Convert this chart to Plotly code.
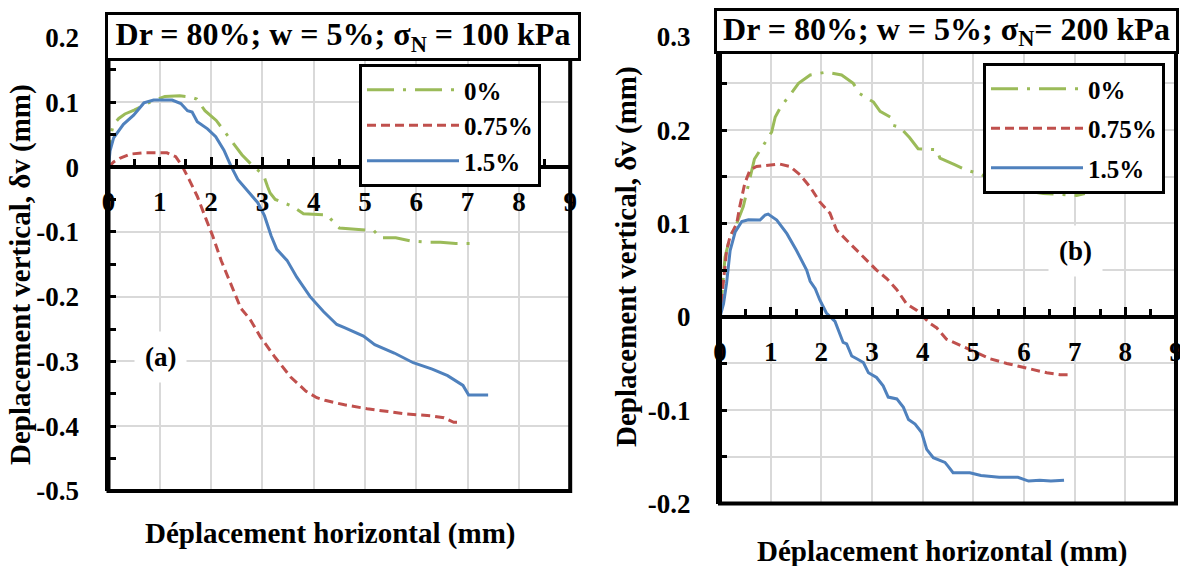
import plotly.graph_objects as go

# ---------------- data ----------------
series_names = ["0%", "0.75%", "1.5%"]
colors = ["#9BBB59", "#C0504D", "#4F81BD"]
dashes = ["27px,9px,3px,9px", "9px,5px", "solid"]

# panel (a): sigma_N = 100 kPa
a_x_0 = [0, 0.02, 0.05, 0.09, 0.2, 0.32, 0.5, 0.8, 1.1, 1.39, 1.6, 1.72, 1.88, 2.1, 2.27, 2.45, 2.6, 2.81,
         3.02, 3.1, 3.15, 3.25, 3.57, 3.8, 4.27, 4.33, 4.5, 4.81, 5.17, 5.3, 5.6, 5.89, 6.21, 6.47, 6.77, 7.09]
a_y_0 = [0, 0.03, 0.05, 0.065, 0.075, 0.082, 0.088, 0.100, 0.109, 0.110, 0.108, 0.105, 0.087, 0.072, 0.054, 0.035,
         0.019, 0.002, -0.012, -0.03, -0.04, -0.05, -0.06, -0.072, -0.074, -0.080, -0.094, -0.096, -0.098, -0.109,
         -0.109, -0.114, -0.116, -0.116, -0.118, -0.118]

a_x_075 = [0, 0.1, 0.23, 0.42, 0.69, 1.14, 1.31, 1.44, 1.57, 1.73, 1.9, 2.03, 2.2, 2.36, 2.58, 2.76, 2.96, 3.25,
           3.55, 3.85, 4.06, 4.22, 4.6, 5.04, 5.4, 5.79, 6.28, 6.54, 6.73, 6.86]
a_y_075 = [0, 0.008, 0.014, 0.020, 0.022, 0.022, 0.016, 0.001, -0.019, -0.045, -0.08, -0.106, -0.145, -0.177,
           -0.218, -0.235, -0.262, -0.294, -0.324, -0.346, -0.356, -0.36, -0.367, -0.373, -0.377, -0.381, -0.384,
           -0.387, -0.394, -0.394]

a_x_15 = [0, 0.03, 0.1, 0.29, 0.49, 0.69, 0.88, 1.24, 1.41, 1.54, 1.63, 1.73, 1.93, 2.09, 2.25, 2.39, 2.52, 2.71,
          2.91, 3.04, 3.17, 3.28, 3.48, 3.67, 3.93, 4.19, 4.45, 4.6, 4.97, 5.19, 5.57, 5.94, 6.31, 6.61, 6.91,
          7.02, 7.4]
a_y_15 = [0, 0.025, 0.045, 0.066, 0.080, 0.099, 0.1035, 0.1035, 0.098, 0.087, 0.085, 0.07, 0.059, 0.047, 0.026,
          0.001, -0.019, -0.037, -0.055, -0.075, -0.106, -0.127, -0.144, -0.17, -0.2, -0.223, -0.243, -0.248,
          -0.261, -0.274, -0.287, -0.302, -0.312, -0.322, -0.337, -0.352, -0.352]

# panel (b): sigma_N = 200 kPa
b_x_0 = [0, 0.03, 0.07, 0.1, 0.2, 0.33, 0.46, 0.6, 0.68, 0.86, 1.02, 1.09, 1.2, 1.38, 1.55, 1.78, 2.09, 2.4,
         2.63, 2.76, 3.03, 3.16, 3.36, 3.42, 3.55, 3.74, 3.91, 4.28, 4.34, 4.63, 4.87, 5.13, 5.59, 5.92, 6.18,
         6.38, 6.76, 7.04, 7.2]
b_y_0 = [0, 0.02, 0.04, 0.064, 0.086, 0.1, 0.118, 0.150, 0.169, 0.184, 0.198, 0.214, 0.225, 0.2375, 0.25,
         0.259, 0.262, 0.259, 0.25, 0.239, 0.23, 0.22, 0.214, 0.205, 0.203, 0.192, 0.180, 0.179, 0.17, 0.163,
         0.157, 0.153, 0.141, 0.136, 0.134, 0.132, 0.131, 0.130, 0.132]

b_x_075 = [0, 0.03, 0.07, 0.13, 0.2, 0.33, 0.39, 0.49, 0.59, 0.72, 0.99, 1.18, 1.38, 1.58, 1.78, 1.97, 2.17,
           2.3, 2.5, 2.7, 2.89, 3.09, 3.29, 3.49, 3.68, 3.88, 4.01, 4.14, 4.28, 4.47, 4.8, 5.07, 5.33, 5.66,
           6.05, 6.45, 6.71, 6.88]
b_y_075 = [0, 0.021, 0.039, 0.071, 0.086, 0.1, 0.118, 0.143, 0.157, 0.161, 0.1625, 0.1636, 0.161, 0.152,
           0.139, 0.123, 0.111, 0.093, 0.082, 0.071, 0.061, 0.05, 0.041, 0.029, 0.014, 0.007, 0.0, -0.007,
           -0.012, -0.024, -0.032, -0.039, -0.045, -0.05, -0.055, -0.06, -0.062, -0.062]

b_x_15 = [0, 0.07, 0.13, 0.2, 0.3, 0.43, 0.56, 0.79, 0.89, 0.95, 1.12, 1.32, 1.51, 1.71, 1.78, 1.88, 1.97,
          2.1, 2.27, 2.37, 2.43, 2.5, 2.6, 2.7, 2.83, 2.93, 3.09, 3.22, 3.32, 3.49, 3.62, 3.72, 3.85, 3.98,
          4.08, 4.21, 4.44, 4.5, 4.6, 4.8, 4.93, 5.15, 5.51, 5.88, 6.0, 6.09, 6.31, 6.53, 6.79]
b_y_15 = [0, 0.014, 0.036, 0.071, 0.091, 0.102, 0.104, 0.1036, 0.109, 0.11, 0.1036, 0.089, 0.071, 0.05,
          0.038, 0.030, 0.018, 0.004, -0.005, -0.019, -0.0275, -0.029, -0.042, -0.045, -0.049, -0.06, -0.065,
          -0.074, -0.086, -0.088, -0.097, -0.11, -0.115, -0.124, -0.142, -0.151, -0.156, -0.16, -0.167,
          -0.167, -0.167, -0.170, -0.172, -0.172, -0.174, -0.176, -0.175, -0.176, -0.175]

# tick labels
x_tick_vals = [0, 1, 2, 3, 4, 5, 6, 7, 8, 9]
x_tick_text = ["0", "1", "2", "3", "4", "5", "6", "7", "8", "9"]
ya_tick_vals = [-0.5, -0.4, -0.3, -0.2, -0.1, 0, 0.1, 0.2]
ya_tick_text = ["-0.5", "-0.4", "-0.3", "-0.2", "-0.1", "0", "0.1", "0.2"]
yb_tick_vals = [-0.2, -0.1, 0, 0.1, 0.2, 0.3]
yb_tick_text = ["-0.2", "-0.1", "0", "0.1", "0.2", "0.3"]

title_a = "Dr = 80%; w = 5%; σ<sub>N</sub> = 100 kPa"
title_b = "Dr = 80%; w = 5%; σ<sub>N</sub>= 200 kPa"
x_title = "Déplacement horizontal (mm)"
y_title = "Deplacement vertical, δv (mm)"

# ---------------- layout geometry ----------------
W, H = 1180, 566
FONT = "Liberation Serif, Tinos, Times New Roman, serif"
range_ya = [-0.5, 0.2]
range_yb = [-0.2, 0.3]
dom_xa = [108.5 / W, 570.2 / W]
dom_ya = [(H - 491) / H, (H - 37.5) / H]
dom_xb = [720 / W, 1176 / W]
dom_yb = [(H - 503.5) / H, (H - 36.7) / H]


def zero_pos(dom, rng):
    return dom[0] + (0 - rng[0]) / (rng[1] - rng[0]) * (dom[1] - dom[0])


fig = go.Figure()
panels = [
    ("x", "y", "legend", [(a_x_0, a_y_0), (a_x_075, a_y_075), (a_x_15, a_y_15)]),
    ("x2", "y2", "legend2", [(b_x_0, b_y_0), (b_x_075, b_y_075), (b_x_15, b_y_15)]),
]
for xa, ya, lg, data in panels:
    for i, (xs, ys) in enumerate(data):
        fig.add_trace(go.Scatter(
            x=xs, y=ys, mode="lines", name=series_names[i], xaxis=xa, yaxis=ya, legend=lg,
            legendgroup=f"{lg}{i}",
            line=dict(color=colors[i], width=3, dash=dashes[i]),
        ))

tickfont = dict(family=FONT, size=27, color="black", weight="bold")
grid = "#D9D9D9"


def xaxis_def(dom, ydom, yrng):
    return dict(
        domain=dom, range=[0, 9], anchor="free",
        position=zero_pos(ydom, yrng),
        tickmode="array", tickvals=x_tick_vals, ticktext=x_tick_text,
        showgrid=True, gridcolor=grid, gridwidth=1.5,
        showline=True, linecolor="black", linewidth=4,
        ticks="inside", ticklen=8, tickwidth=3, tickcolor="black",
        minor=dict(tickmode="linear", tick0=0, dtick=0.5, ticks="inside", ticklen=6,
                   tickwidth=3, tickcolor="black", showgrid=False),
        zeroline=False, tickfont=tickfont, ticklabelstandoff=10, ticklabeloverflow="allow",
        fixedrange=True, automargin=False,
    )


def yaxis_def(dom, rng, vals, text, anchor_x, minor_grid):
    return dict(
        domain=dom, range=rng, anchor=anchor_x,
        tickmode="array", tickvals=vals, ticktext=text,
        showgrid=True, gridcolor=grid, gridwidth=1.5,
        showline=True, linecolor="black", linewidth=4,
        ticks="inside", ticklen=7, tickwidth=3, tickcolor="black",
        minor=dict(tickmode="linear", tick0=0, dtick=0.05, ticks="inside", ticklen=7,
                   tickwidth=3, tickcolor="black", showgrid=minor_grid, gridcolor=grid, gridwidth=1.5),
        zeroline=False, tickfont=tickfont, ticklabelstandoff=20, ticklabeloverflow="allow",
        fixedrange=True, automargin=False,
    )


legend_common = dict(
    xanchor="left", yanchor="top", bgcolor="white", bordercolor="black", borderwidth=3,
    font=dict(family=FONT, size=25, color="black", weight="bold"), itemwidth=92,
    tracegroupgap=0,
)

fig.update_layout(
    width=W, height=H, margin=dict(l=0, r=0, t=0, b=0, autoexpand=False),
    paper_bgcolor="white", plot_bgcolor="white",
    font=dict(family=FONT),
    xaxis=xaxis_def(dom_xa, dom_ya, range_ya),
    yaxis=yaxis_def(dom_ya, range_ya, ya_tick_vals, ya_tick_text, "x", False),
    xaxis2=xaxis_def(dom_xb, dom_yb, range_yb),
    yaxis2=yaxis_def(dom_yb, range_yb, yb_tick_vals, yb_tick_text, "x2", True),
    legend=dict(legend_common, x=359 / W, y=1 - 64 / H),
    legend2=dict(legend_common, x=983 / W, y=1 - 63 / H, tracegroupgap=4),
    showlegend=True,
)

# plot frames
for xr, yr in [("x domain", "y domain"), ("x2 domain", "y2 domain")]:
    fig.add_shape(type="rect", xref=xr, yref=yr, x0=0, x1=1, y0=0, y1=1,
                  line=dict(color="black", width=4), layer="above")

boxfont = dict(family=FONT, size=32, color="black", weight="bold")
labfont = dict(family=FONT, size=27, color="black", weight="bold")
titlefont = dict(family=FONT, size=29, color="black", weight="bold")
ann = [
    dict(text=title_a, x=343 / W, y=1 - 36 / H, width=468, height=41, font=boxfont),
    dict(text=title_b, x=946.5 / W, y=1 - 31.5 / H, width=457, height=38, font=boxfont),
]
for a in ann:
    fig.add_annotation(xref="paper", yref="paper", xanchor="center", yanchor="middle", showarrow=False,
                       bgcolor="white", bordercolor="black", borderwidth=3, borderpad=1, **a)

for txt, x, y in [("(a)", 161, 357), ("(b)", 1075, 251)]:
    fig.add_annotation(xref="paper", yref="paper", x=x / W, y=1 - y / H, text=txt, showarrow=False,
                       xanchor="center", yanchor="middle", bgcolor="white", borderpad=10, font=labfont)

for x, y in [(330, 533), (942, 551)]:
    fig.add_annotation(xref="paper", yref="paper", x=x / W, y=1 - y / H, text=x_title, showarrow=False,
                       xanchor="center", yanchor="middle", font=titlefont)
for x, y in [(20, 275), (626, 257)]:
    fig.add_annotation(xref="paper", yref="paper", x=x / W, y=1 - y / H, text=y_title, showarrow=False,
                       xanchor="center", yanchor="middle", textangle=-90, font=titlefont)

fig.write_html("out.html")
